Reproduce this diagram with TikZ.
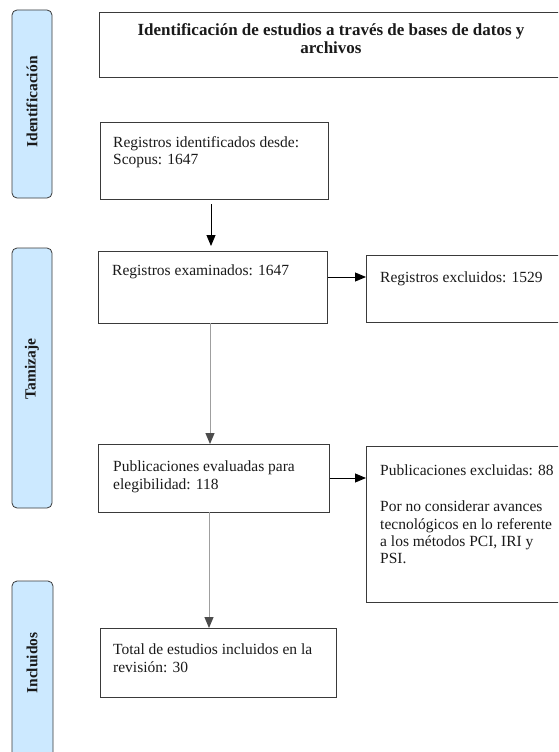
\documentclass[tikz,border=0pt]{standalone}
\usepackage{fontspec}
\setmainfont{Liberation Serif}
\usetikzlibrary{arrows.meta}
\definecolor{sideblue}{HTML}{CCE9FF}
\definecolor{txt}{HTML}{1A1A1A}
\definecolor{boxline}{HTML}{3A3A3A}
\begin{document}
\begin{tikzpicture}[x=1pt,y=-1pt,
  sidebox/.style={draw=boxline,line width=0.8pt,fill=sideblue,rounded corners=5pt},
  sidetext/.style={rotate=90,font=\fontsize{15.5}{18}\selectfont\bfseries,text=txt},
  mainbox/.style={draw=boxline,line width=0.8pt},
  boxtext/.style={anchor=north west,align=left,inner sep=0pt,font=\fontsize{15.5}{17.3}\selectfont,text=txt},
  blackarrow/.style={draw=black,line width=0.9pt,-{Triangle[length=11pt,width=9pt]}},
  grayarrow/.style={draw=gray!75,line width=1pt,-{Triangle[length=11pt,width=9pt,fill=black!70,color=black!70]}}
]
\clip (0,0) rectangle (558,752);
\fill[white] (0,0) rectangle (558,752);
% side labels
\draw[sidebox] (12,10) rectangle (52,198);
\node[sidetext] (sid1) at (32,102) {Identificación};
\draw[sidebox] (12,248) rectangle (52,508);
\node[sidetext] (sid2) at (32,369) {Tamizaje};
\draw[sidebox] (12,581) rectangle (53,770);
\node[sidetext] (sid3) at (32,663) {Incluidos};
% header
\draw[mainbox] (99,12) rectangle (562,77);
\node[align=center,font=\fontsize{17}{18}\selectfont\bfseries,text=txt] (head) at (331,39) {Identificación de estudios a través de bases de datos y\\archivos};
% boxes
\node[mainbox,anchor=north west,minimum width=228pt,minimum height=77pt,inner sep=0pt] (b1) at (100,122) {};
\node[boxtext] (t1) at (113,136) {Registros identificados desde:\\Scopus: 1647};
\node[mainbox,anchor=north west,minimum width=229pt,minimum height=72pt,inner sep=0pt] (b2) at (98,251) {};
\node[boxtext] (t2) at (112,265) {Registros examinados: 1647};
\node[mainbox,anchor=north west,minimum width=200pt,minimum height=67pt,inner sep=0pt] (b3) at (366,255) {};
\node[boxtext] (t3) at (380,272) {Registros excluidos: 1529};
\node[mainbox,anchor=north west,minimum width=231pt,minimum height=68pt,inner sep=0pt] (b4) at (98,444) {};
\node[boxtext] (t4) at (113,461) {Publicaciones evaluadas para\\elegibilidad: 118};
\node[mainbox,anchor=north west,minimum width=200pt,minimum height=156pt,inner sep=0pt] (b5) at (366,446) {};
\node[boxtext] (t5) at (380,465) {Publicaciones excluidas: 88\\[18.5pt]Por no considerar avances\\tecnológicos en lo referente\\a los métodos PCI, IRI y\\PSI.};
\node[mainbox,anchor=north west,minimum width=236pt,minimum height=69pt,inner sep=0pt] (b6) at (100,628) {};
\node[boxtext] (t6) at (113,644) {Total de estudios incluidos en la\\revisión: 30};
% arrows
\coordinate (a1s) at (211,204);
\draw[blackarrow] (a1s) -- (211,246);
\draw[blackarrow] (b2.east |- 0,277) -- (b3.west |- 0,277);
\draw[grayarrow] (210,323) -- (210,444);
\draw[blackarrow] (b4.east |- 0,478) -- (b5.west |- 0,478);
\draw[grayarrow] (209,512) -- (209,628);
\end{tikzpicture}
\end{document}
